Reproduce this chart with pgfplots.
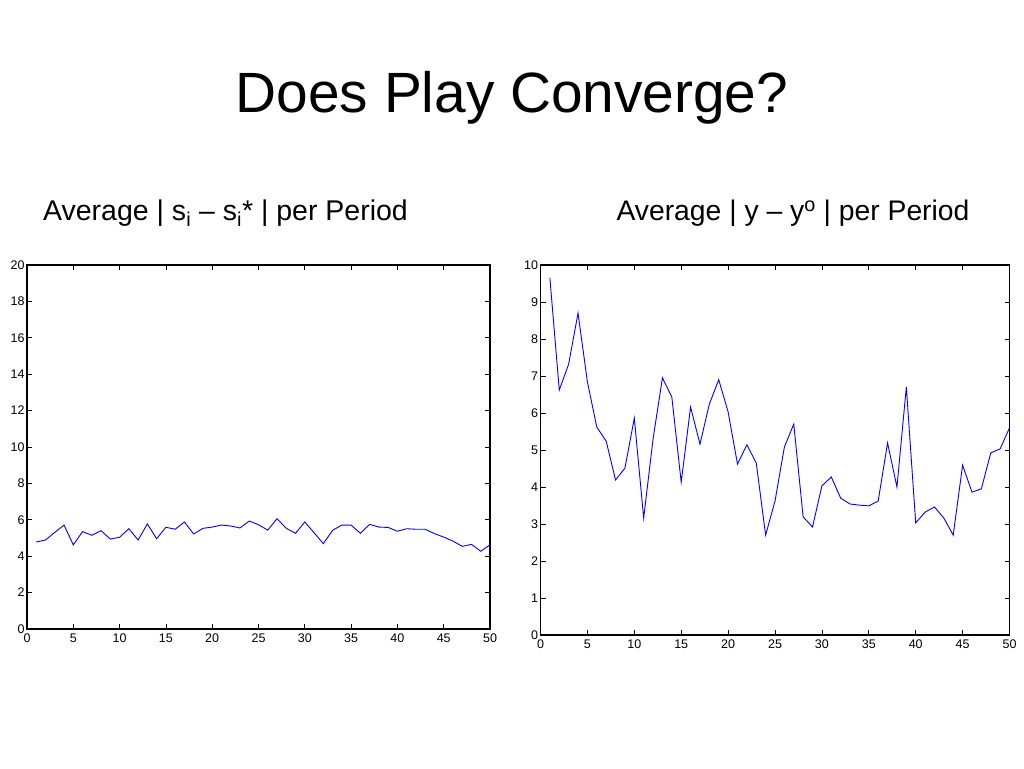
\documentclass[border=0pt]{standalone}
\usepackage{pgfplots}
\pgfplotsset{compat=1.18}
\usepackage{fontspec}
\setmainfont{Liberation Sans}
\begin{document}
\begin{tikzpicture}[x=1pt,y=1pt]
\path[use as bounding box, fill=white] (0pt,0pt) rectangle (1024pt,768pt);
\node[font=\fontsize{56.8}{60}\selectfont] at (512pt,670pt) {Does Play Converge?};
\node[font=\fontsize{28.5}{32}\selectfont, anchor=base] at (225.5pt,547pt) {Average | s\textsubscript{i} -- s\textsubscript{i}* | per Period};
\node[font=\fontsize{28.3}{32}\selectfont, anchor=base] at (793pt,547pt) {Average | y -- y\textsuperscript{o} | per Period};
\pgfplotsset{every axis/.style={scale only axis, anchor=south west,
  axis line style={line width=1.2pt}, tick style={black, line width=0.8pt},
  tick align=inside, tick pos=both, major tick length=5pt,
  ticklabel style={font=\fontsize{12.5}{14}\selectfont},
  /pgf/number format/assume math mode=true,
  xmin=0, xmax=50, xtick={0,5,...,50},
  xticklabel style={yshift=-1pt}, yticklabel style={xshift=1pt}}}
\begin{axis}[at={(27pt,139pt)}, width=463pt, height=364pt, ymin=0, ymax=20, ytick={0,2,...,20}]
\addplot[blue, line width=0.9pt] coordinates {
(1,4.78)(2,4.89)(3,5.31)(4,5.71)(5,4.62)(6,5.35)(7,5.15)(8,5.40)(9,4.94)(10,5.04)
(11,5.51)(12,4.89)(13,5.77)(14,4.96)(15,5.59)(16,5.48)(17,5.88)(18,5.22)(19,5.53)(20,5.60)
(21,5.71)(22,5.66)(23,5.55)(24,5.93)(25,5.73)(26,5.43)(27,6.06)(28,5.53)(29,5.26)(30,5.88)
(31,5.29)(32,4.69)(33,5.42)(34,5.71)(35,5.71)(36,5.26)(37,5.75)(38,5.60)(39,5.58)(40,5.37)
(41,5.51)(42,5.48)(43,5.48)(44,5.24)(45,5.05)(46,4.83)(47,4.54)(48,4.65)(49,4.27)(50,4.63)};
\end{axis}
\begin{axis}[at={(540.5pt,133pt)}, width=469pt, height=370pt, ymin=0, ymax=10, ytick={0,1,...,10}]
\addplot[blue, line width=0.9pt] coordinates {
(1,9.65)(2,6.62)(3,7.32)(4,8.70)(5,6.84)(6,5.62)(7,5.24)(8,4.19)(9,4.51)(10,5.86)
(11,3.16)(12,5.30)(13,6.95)(14,6.43)(15,4.13)(16,6.16)(17,5.16)(18,6.24)(19,6.90)(20,6.03)
(21,4.62)(22,5.14)(23,4.65)(24,2.70)(25,3.62)(26,5.08)(27,5.70)(28,3.19)(29,2.92)(30,4.03)
(31,4.27)(32,3.70)(33,3.54)(34,3.51)(35,3.49)(36,3.62)(37,5.19)(38,4.00)(39,6.70)(40,3.03)
(41,3.32)(42,3.46)(43,3.16)(44,2.70)(45,4.59)(46,3.86)(47,3.95)(48,4.92)(49,5.03)(50,5.60)};
\end{axis}
\end{tikzpicture}
\end{document}
